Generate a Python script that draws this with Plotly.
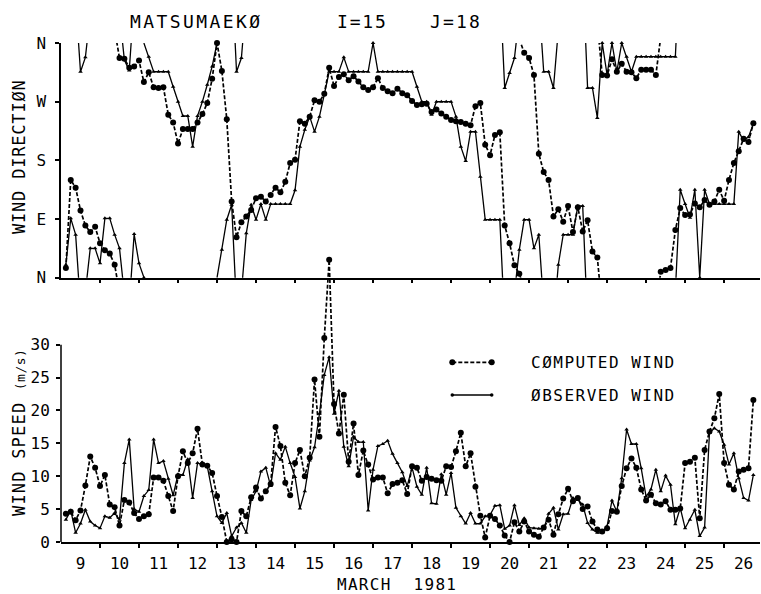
import plotly.graph_objects as go
import pandas as pd

# ---------------- data (3-hourly, 9 Mar 03:00 -> 26 Mar 18:00, 1981) ----------------
times = list(pd.date_range("1981-03-09 03:00", periods=142, freq="3h").to_pydatetime())

# wind direction in degrees (0 = N, 90 = E, 180 = S, 270 = W, 360 = N)
dir_computed = [
    15, 150, 138, 103, 80, 70, 78,
    53, 42, 37, 20, 337, 336, 322, 324,
    333, 300, 315, 292, 291, 292, 250, 238,
    206, 228, 228, 228, 238, 251, 268, 305,
    360, 317, 243, 117, 62, 85, 94, 104,
    122, 124, 117, 127, 138, 131, 147, 176,
    181, 240, 236, 247, 272, 270, 282, 322,
    294, 308, 312, 303, 309, 301, 292, 288,
    292, 306, 291, 286, 283, 290, 283, 280,
    271, 265, 266, 267, 254, 258, 252, 247,
    242, 240, 239, 236, 234, 263, 268, 204,
    188, 219, 223, 80, 53, 19, 6, 345,
    337, 311, 190, 162, 150, 94, 105, 86,
    110, 70, 108, 71, 88, 40, 31, 311,
    310, 335, 316, 328, 316, 315, 306, 319,
    319, 319, 311, 9, 12, 15, 73, 107,
    96, 97, 114, 108, 119, 112, 117, 135,
    118, 150, 176, 194, 213, 208, 237,
]
dir_observed = [
    20, 91, 66, 316, 338, 45, 45,
    22, 91, 91, 66, 45, 334, 318, 67,
    22, 0, 339, 316, 316, 316, 316, 293,
    270, 248, 248, 201, 248, 270, 296, 324,
    360, 43, 89, 112, 316, 337, 68, 112,
    89, 113, 89, 113, 113, 113, 113, 113,
    134, 201, 227, 247, 224, 247, 281, 316,
    316, 316, 338, 316, 316, 316, 316, 316,
    360, 316, 316, 316, 316, 316, 316, 316,
    316, 293, 270, 270, 250, 270, 270, 270,
    270, 247, 201, 179, 224, 224, 155, 89,
    89, 89, 89, 291, 314, 337, 43, 89,
    89, 45, 66, 316, 316, 291, 20, 66,
    66, 66, 110, 110, 291, 291, 245, 360,
    311, 360, 316, 360, 339, 316, 339, 339,
    339, 339, 339, 339, 339, 339, 339, 135,
    113, 92, 135, 0, 135, 113, 113, 113,
    113, 113, 113, 224, 210, 216, 236,
]

# wind speed (m/s)
speed_computed = [
    4.3, 4.6, 3.3, 4.8, 8.6, 13.0, 11.3,
    8.5, 10.2, 5.7, 5.3, 2.5, 6.4, 6.0, 4.4,
    3.5, 3.9, 4.2, 9.8, 9.8, 9.3, 7.0, 4.7,
    10.0, 13.8, 12.0, 13.5, 17.2, 11.8, 11.6, 10.5,
    7.0, 3.8, 0.0, 0.4, 0.0, 4.7, 3.9, 6.8,
    8.3, 6.6, 7.7, 8.8, 17.5, 14.6, 9.0, 7.1,
    12.0, 14.0, 10.0, 12.8, 24.7, 16.0, 31.0, 42.9,
    21.0, 16.5, 22.4, 12.2, 18.0, 10.2, 13.9, 11.8,
    9.5, 9.8, 9.8, 7.4, 8.8, 9.0, 9.4, 7.3,
    11.5, 11.3, 9.3, 9.9, 9.6, 9.4, 9.3, 11.5,
    11.4, 13.8, 16.6, 11.5, 13.5, 8.4, 4.0, 0.7,
    4.0, 3.5, 2.5, 1.0, 0.0, 3.0, 1.6, 3.1,
    1.6, 1.1, 0.8, 2.2, 3.4, 1.1, 4.2, 6.6,
    8.1, 6.2, 6.7, 5.0, 5.4, 3.1, 1.9, 1.6,
    2.1, 4.7, 4.6, 8.5, 11.2, 12.7, 11.3, 8.0,
    6.3, 7.2, 5.9, 5.7, 6.2, 4.9, 4.9, 5.1,
    12.0, 12.2, 12.8, 3.6, 14.0, 16.8, 18.8, 22.5,
    12.0, 8.7, 8.0, 10.7, 11.0, 11.2, 21.6,
]
speed_observed = [
    3.4, 4.8, 1.4, 2.8, 4.9, 3.1, 2.5,
    2.1, 3.9, 3.7, 4.4, 3.4, 12.0, 15.6, 5.0,
    4.6, 7.0, 7.9, 15.6, 12.0, 12.3, 9.6, 7.1,
    10.3, 10.2, 12.6, 6.7, 12.0, 11.8, 11.5, 7.7,
    3.9, 2.9, 4.4, 0.9, 2.2, 2.9, 1.4, 6.4,
    7.7, 10.7, 11.3, 8.5, 13.5, 12.5, 14.5, 12.0,
    9.9, 5.1, 7.7, 12.4, 14.4, 19.5, 25.4, 28.1,
    19.5, 23.0, 14.5, 11.5, 16.0, 15.2, 15.2, 4.8,
    11.0, 14.6, 14.9, 15.4, 13.4, 12.0, 10.6, 8.5,
    11.3, 8.4, 7.2, 11.3, 5.9, 5.8, 10.3, 7.2,
    10.5, 5.2, 3.9, 2.8, 4.4, 2.8, 2.8, 3.9,
    4.1, 5.5, 5.6, 2.0, 2.5, 5.6, 2.6, 3.6,
    2.2, 2.1, 2.0, 2.0, 4.3, 5.2, 1.9, 4.2,
    4.3, 6.7, 6.4, 5.7, 2.9, 1.9, 1.4, 1.4,
    2.4, 6.3, 4.6, 9.7, 17.1, 14.9, 14.9, 11.2,
    6.9, 8.0, 11.0, 7.7, 10.1, 8.7, 2.7, 5.2,
    2.1, 3.4, 4.9, 0.9, 2.2, 16.6, 17.3, 16.8,
    14.8, 11.8, 13.5, 9.7, 6.7, 6.3, 10.2,
]

day_labels = ["9", "10", "11", "12", "13", "14", "15", "16", "17",
              "18", "19", "20", "21", "22", "23", "24", "25", "26"]
day_noons = list(pd.date_range("1981-03-09 12:00", periods=18, freq="D").to_pydatetime())
day_starts = list(pd.date_range("1981-03-10 00:00", periods=17, freq="D").to_pydatetime())
dir_tickvals = [0, 90, 180, 270, 360]
dir_ticktext = ["N", "E", "S", "W", "N"]
speed_tickvals = [0, 5, 10, 15, 20, 25, 30]

# ---------------- layout geometry ----------------
W, H = 761, 594
ML, MR, MT, MB = 61, 1, 43, 52
PW, PH = W - ML - MR, H - MT - MB
FONT = "DejaVu Sans Mono"
XRANGE = ["1981-03-09 00:00", "1981-03-26 22:05"]
SPEED_MAX = 44
SPEED_PX = 6.577  # pixels per m/s


def fx(px):
    return (px - ML) / PW


def fy(py):
    return (H - MB - py) / PH


def wrap_path(xs, ys):
    """Insert clipped wrap-around segments where the direction crosses north."""
    ox, oy = [], []
    for i, (x, y) in enumerate(zip(xs, ys)):
        if i > 0:
            xp, yp = xs[i - 1], ys[i - 1]
            d = y - yp
            if d < -180:
                ox += [x, None, xp]
                oy += [y + 360, None, yp - 360]
            elif d > 180:
                ox += [x, None, xp]
                oy += [y - 360, None, yp + 360]
        ox.append(x)
        oy.append(y)
    return ox, oy


def spaced(text, ls, size=None):
    st = f"letter-spacing:{ls}px"
    if size:
        st += f";font-size:{size}px"
    return f'<span style="{st}">{text}</span>'


DASH = "4px,2px"
fig = go.Figure()

# ---- direction panel ----
ox, oy = wrap_path(times, dir_observed)
cx, cy = wrap_path(times, dir_computed)
fig.add_trace(go.Scatter(x=ox, y=oy, mode="lines", line=dict(color="black", width=1.3),
                         xaxis="x", yaxis="y", hoverinfo="skip"))
fig.add_trace(go.Scatter(x=times, y=dir_observed, mode="markers",
                         marker=dict(symbol="triangle-up", size=4, color="black"),
                         cliponaxis=False, xaxis="x", yaxis="y"))
fig.add_trace(go.Scatter(x=cx, y=cy, mode="lines", line=dict(color="black", width=1.7, dash=DASH),
                         xaxis="x", yaxis="y", hoverinfo="skip"))
fig.add_trace(go.Scatter(x=times, y=dir_computed, mode="markers",
                         marker=dict(symbol="circle", size=6, color="black"),
                         cliponaxis=False, xaxis="x", yaxis="y"))

# ---- speed panel ----
fig.add_trace(go.Scatter(x=times, y=speed_observed, mode="lines+markers",
                         line=dict(color="black", width=1.3),
                         marker=dict(symbol="triangle-up", size=4, color="black"),
                         cliponaxis=False, xaxis="x2", yaxis="y2"))
fig.add_trace(go.Scatter(x=times, y=speed_computed, mode="lines+markers",
                         line=dict(color="black", width=1.7, dash=DASH),
                         marker=dict(symbol="circle", size=6, color="black"),
                         cliponaxis=False, xaxis="x2", yaxis="y2"))

tickfont = dict(family=FONT, size=16, color="black")
minor_ticks = dict(tickmode="array", tickvals=day_starts, ticks="outside", ticklen=4,
                   tickcolor="black", tickwidth=1.5)
base = dict(showgrid=False, zeroline=False, linecolor="black", linewidth=1.5,
            tickcolor="black", tickwidth=1.5, tickfont=tickfont)

fig.update_layout(
    width=W, height=H,
    margin=dict(l=ML, r=MR, t=MT, b=MB),
    paper_bgcolor="white", plot_bgcolor="rgba(0,0,0,0)",
    showlegend=False,
    font=dict(family=FONT, color="black"),
    xaxis=dict(domain=[0, 1], anchor="y", type="date", range=XRANGE, showline=True,
               ticks="", showticklabels=False, minor=minor_ticks, **base),
    yaxis=dict(domain=[fy(277.7), 1], anchor="x", range=[0, 360], showline=True,
               tickmode="array", tickvals=dir_tickvals, ticktext=dir_ticktext,
               ticks="outside", ticklen=4, ticklabelstandoff=6, **base),
    xaxis2=dict(domain=[0, 1], anchor="y2", type="date", range=XRANGE, showline=True,
                tickmode="array", tickvals=day_noons, ticktext=day_labels, ticks="",
                ticklabelstandoff=6, minor=minor_ticks, **base),
    yaxis2=dict(domain=[0, SPEED_MAX * SPEED_PX / PH], anchor="x2", range=[0, SPEED_MAX],
                showline=False, tickmode="array", tickvals=speed_tickvals,
                ticks="outside", ticklen=4, ticklabelstandoff=3, **base),
)

shapes = [
    # speed axis line only up to 30 m/s
    dict(type="line", xref="x2 domain", yref="y2", x0=0, x1=0, y0=0, y1=30,
         line=dict(color="black", width=1.5)),
    # legend samples
    dict(type="line", xref="paper", yref="paper", x0=fx(452.3), x1=fx(491.7),
         y0=fy(362.3), y1=fy(362.3), line=dict(color="black", width=1.7, dash=DASH)),
    dict(type="line", xref="paper", yref="paper", x0=fx(452.3), x1=fx(491.7),
         y0=fy(395), y1=fy(395), line=dict(color="black", width=1.3)),
]
for px in (452.3, 491.7):
    shapes.append(dict(type="circle", xref="paper", yref="paper", xsizemode="pixel",
                       ysizemode="pixel", xanchor=fx(px), yanchor=fy(362.3),
                       x0=-3, x1=3, y0=-3, y1=3, fillcolor="black",
                       line=dict(color="black", width=0)))
    shapes.append(dict(type="circle", xref="paper", yref="paper", xsizemode="pixel",
                       ysizemode="pixel", xanchor=fx(px), yanchor=fy(395),
                       x0=-1.8, x1=1.8, y0=-1.8, y1=1.8, fillcolor="black",
                       line=dict(color="black", width=0)))
fig.update_layout(shapes=shapes)

ann_font = dict(family=FONT, color="black")
annotations = [
    dict(text=spaced("MATSUMAEKØ", 2.4), x=fx(127.7), y=fy(21.5), xanchor="left", yanchor="middle",
         font=dict(size=18, **ann_font)),
    dict(text=spaced("I=15", 1.8), x=fx(335), y=fy(21.5), xanchor="left", yanchor="middle",
         font=dict(size=18, **ann_font)),
    dict(text=spaced("J=18", 2.2), x=fx(428), y=fy(21.5), xanchor="left", yanchor="middle",
         font=dict(size=18, **ann_font)),
    dict(text=spaced("WIND DIRECTIØN", 0.8), x=fx(19), y=fy(157), xanchor="center", yanchor="middle",
         textangle=-90, font=dict(size=17, **ann_font)),
    dict(text=spaced("WIND SPEED ", 1.2) + spaced("(m/s)", 0.5, 13), x=fx(19), y=fy(433),
         xanchor="center", yanchor="middle", textangle=-90, font=dict(size=17, **ann_font)),
    dict(text=spaced("MARCH\u00a0\u00a01981", 1.3), x=fx(397), y=fy(584), xanchor="center",
         yanchor="middle", font=dict(size=16, **ann_font)),
    dict(text=spaced("CØMPUTED WIND", 1.5), x=fx(528.7), y=fy(362.3), xanchor="left",
         yanchor="middle", font=dict(size=16, **ann_font)),
    dict(text=spaced("ØBSERVED WIND", 1.5), x=fx(528.7), y=fy(395), xanchor="left",
         yanchor="middle", font=dict(size=16, **ann_font)),
]
for a in annotations:
    a.update(xref="paper", yref="paper", showarrow=False)
fig.update_layout(annotations=annotations)

fig.write_html("out.html")
